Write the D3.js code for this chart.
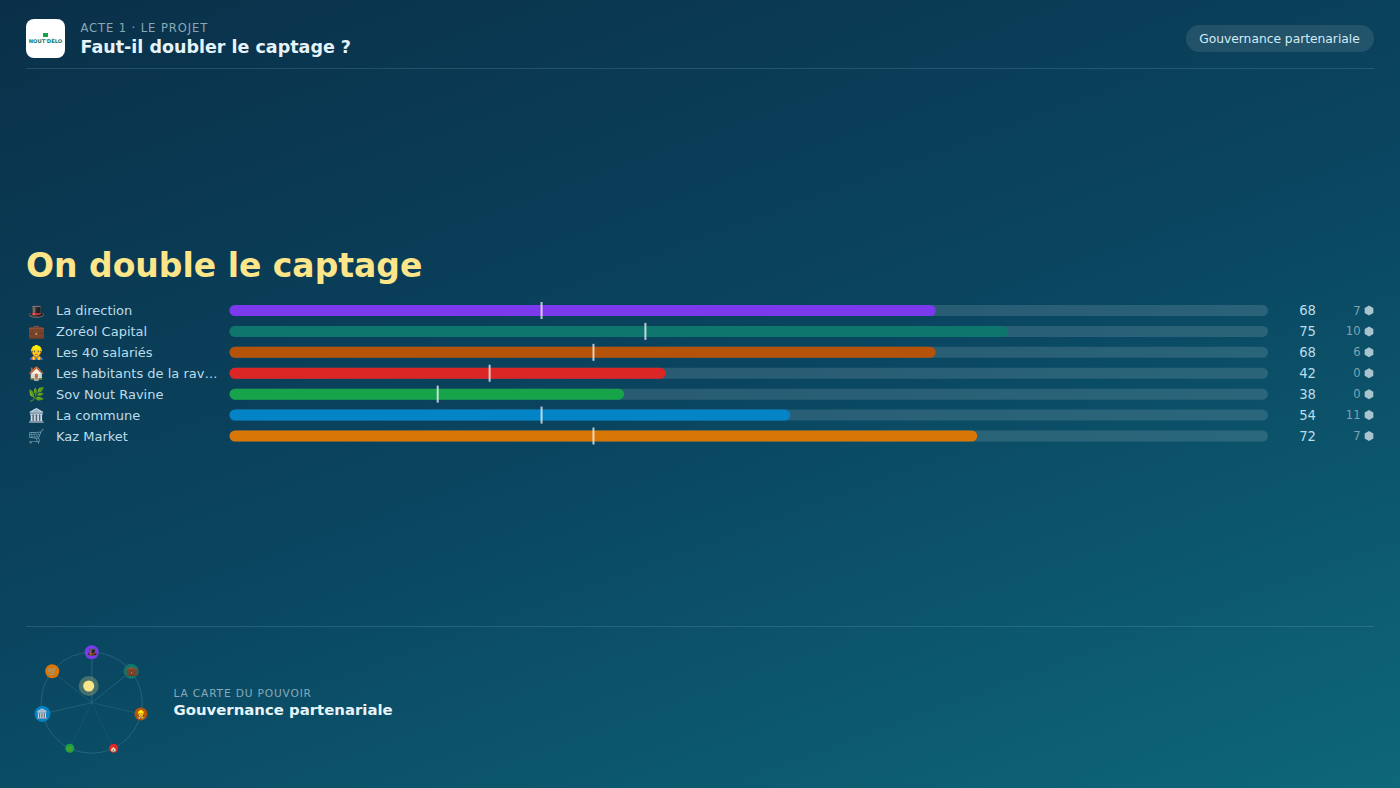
<!DOCTYPE html>
<html><head><meta charset="utf-8">
<script src="https://cdn.jsdelivr.net/npm/d3@7/dist/d3.min.js"></script>
<style>
html,body{margin:0;padding:0;width:1400px;height:788px;overflow:hidden;background:linear-gradient(160deg,#0a3049 0%,#0a4560 50%,#0e6779 100%);}
svg{display:block;font-family:"DejaVu Sans",sans-serif;}
</style></head><body>
<svg id="c" width="1400" height="788"></svg>
<script>
const actors=["La direction","Zoréol Capital","Les 40 salariés","Les habitants de la rav…","Sov Nout Ravine","La commune","Kaz Market"];
const icons=["🎩","💼","👷","🏠","🌿","🏛️","🛒"];
const scores=[68,75,68,42,38,54,72];
const marks=[30,40,35,25,20,30,35];
const tokens=[7,10,6,0,0,11,7];
const colors=["#7c3aed","#0f766e","#b45309","#dc2626","#16a34a","#0284c7","#d97706"];
const nodeSizes=[7,7.5,6.5,4.5,4.5,8,7];
const kicker="ACTE 1 · LE PROJET", heading="Faut-il doubler le captage ?", badge="Gouvernance partenariale";
const verdict="On double le captage", mapKicker="LA CARTE DU POUVOIR", mapTitle="Gouvernance partenariale";

const svg=d3.select("#c");
const T=(x,y,s,size,fill,o={})=>svg.append("text").attr("x",x).attr("y",y).text(s)
  .attr("font-size",size).attr("fill",fill).attr("font-weight",o.w||400)
  .attr("text-anchor",o.a||"start").attr("letter-spacing",o.ls||0);
const rule=(y)=>svg.append("line").attr("x1",26).attr("x2",1374).attr("y1",y).attr("y2",y).attr("stroke","#9fd4e8").attr("stroke-opacity",.17);

// header
svg.append("rect").attr("x",26).attr("y",19).attr("width",39).attr("height",39).attr("rx",8).attr("fill","#fff");
svg.append("rect").attr("x",43).attr("y",33).attr("width",5).attr("height",4).attr("fill","#16a34a");
T(45.5,43,"NOUT'DÉLO",5.2,"#0f766e",{w:700,a:"middle"});
T(80.5,32,kicker,11.52,"#8aa9b8",{ls:.92});
T(80.5,52.5,heading,17.5,"#e6f4fa",{w:700});
svg.append("rect").attr("x",1186).attr("y",25).attr("width",188).attr("height",27).attr("rx",13.5).attr("fill","#fff").attr("fill-opacity",.1);
T(1279.5,43,badge,12.27,"#d5ebf4",{a:"middle"});
rule(68.5);

// verdict
T(26,277,verdict,33,"#fde68a",{w:700});

// rows
const x=d3.scaleLinear().domain([0,100]).range([229.5,1268]);
const y=d3.scalePoint().domain(actors).range([310.5,436]);
const rows=svg.selectAll("g.row").data(actors).join("g").attr("class","row").attr("transform",d=>`translate(0,${y(d)})`);
rows.append("text").attr("x",36.5).attr("y",5).attr("text-anchor","middle").attr("font-size",13.5).text((d,i)=>icons[i]);
rows.append("text").attr("x",56).attr("y",4.6).attr("font-size",13).attr("fill","#bcdcea").text(d=>d);
rows.append("rect").attr("x",x(0)).attr("y",-5.5).attr("width",x(100)-x(0)).attr("height",11).attr("rx",5.5).attr("fill","#fff").attr("fill-opacity",.13);
rows.append("rect").attr("x",x(0)).attr("y",-5.5).attr("width",(d,i)=>x(scores[i])-x(0)).attr("height",11).attr("rx",5.5).attr("fill",(d,i)=>colors[i]);
rows.append("line").attr("x1",(d,i)=>x(marks[i])+.5).attr("x2",(d,i)=>x(marks[i])+.5).attr("y1",-8.5).attr("y2",8.5).attr("stroke","#fff").attr("stroke-opacity",.72).attr("stroke-width",2);
rows.append("text").attr("x",1316).attr("y",4.8).attr("text-anchor","end").attr("font-size",13.2).attr("fill","#bcdcea").text((d,i)=>scores[i]);
rows.append("text").attr("x",1360.5).attr("y",4).attr("text-anchor","end").attr("font-size",11.5).attr("fill","#7fa3b3").text((d,i)=>tokens[i]);
const hex=d3.range(6).map(k=>{const a=Math.PI/3*k-Math.PI/2;return [5*Math.cos(a),5*Math.sin(a)]});
rows.append("polygon").attr("points",hex.join(" ")).attr("transform","translate(1369,0)").attr("fill","#a9c3cf");

// footer
rule(626.5);
const cx=91.7,cy=702.7,R=50.5;
const ang=d3.scaleLinear().domain([0,actors.length]).range([-Math.PI/2,Math.PI*1.5]);
const px=i=>cx+R*Math.cos(ang(i)), py=i=>cy+R*Math.sin(ang(i));
svg.append("circle").attr("cx",cx).attr("cy",cy).attr("r",R).attr("fill","none").attr("stroke","#9fd4e8").attr("stroke-opacity",.17);
const net=svg.selectAll("g.n").data(actors).join("g").attr("class","n");
net.append("line").attr("x1",cx).attr("y1",cy).attr("x2",(d,i)=>px(i)).attr("y2",(d,i)=>py(i)).attr("stroke","#9fd4e8").attr("stroke-opacity",(d,i)=>0.07+tokens[i]*0.008).attr("stroke-width",(d,i)=>i===0?1.6:1);
net.append("circle").attr("cx",(d,i)=>px(i)).attr("cy",(d,i)=>py(i)).attr("r",(d,i)=>nodeSizes[i]).attr("fill",(d,i)=>colors[i]);
net.append("text").attr("x",(d,i)=>px(i)).attr("y",(d,i)=>py(i)+2.8).attr("text-anchor","middle").attr("font-size",(d,i)=>nodeSizes[i]*1.2).text((d,i)=>icons[i]);
svg.append("circle").attr("cx",88.7).attr("cy",686).attr("r",10).attr("fill","#fde68a").attr("fill-opacity",.25);
svg.append("circle").attr("cx",88.7).attr("cy",686).attr("r",5.5).attr("fill","#fde68a");
T(173.5,697,mapKicker,10.6,"#8aa9b8",{ls:.85});
T(173.5,715,mapTitle,14.9,"#e6f4fa",{w:700});
</script></body></html>
